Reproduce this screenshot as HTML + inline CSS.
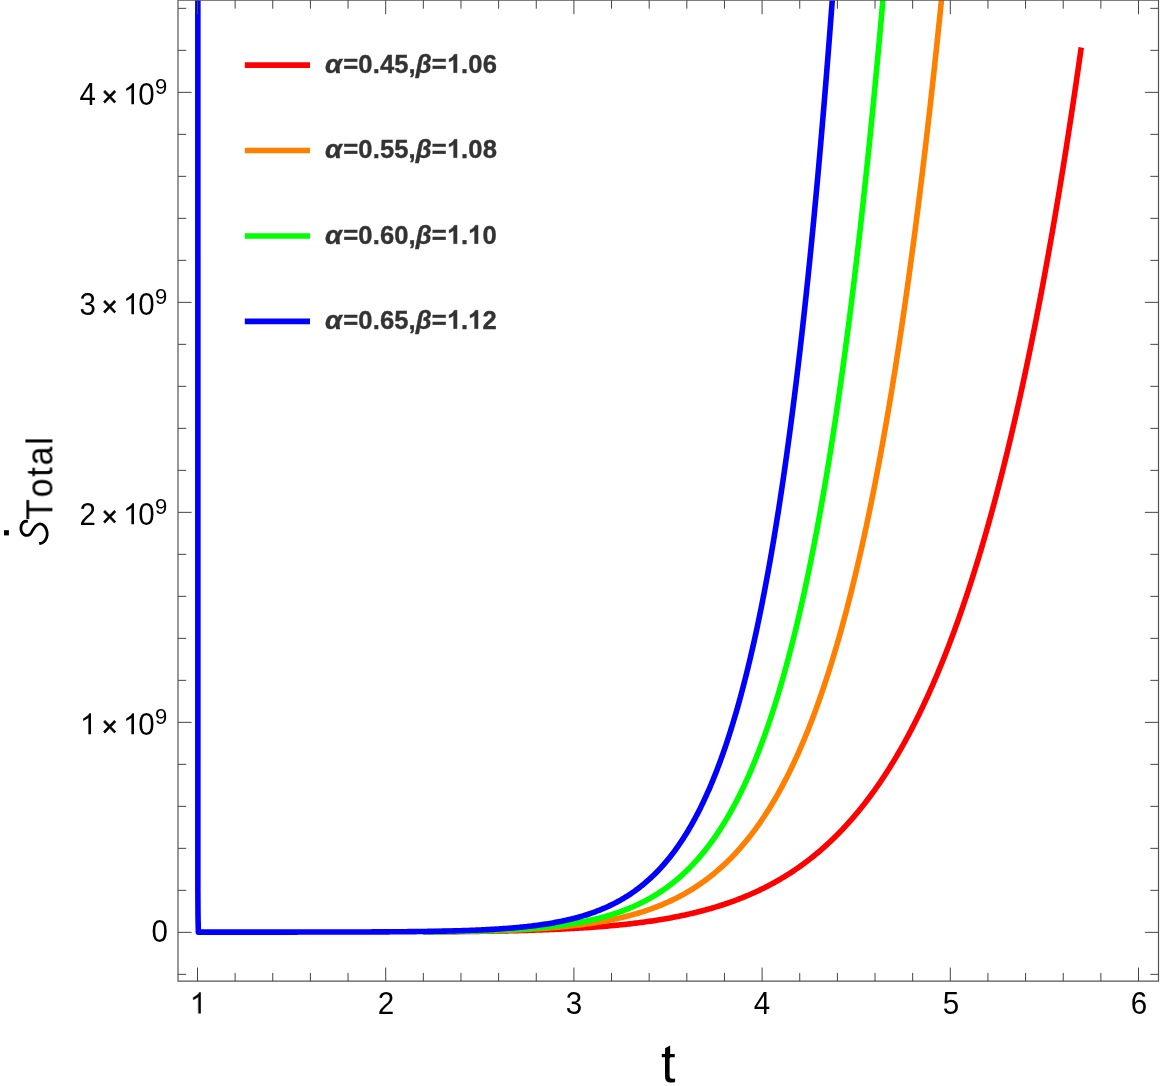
<!DOCTYPE html>
<html><head><meta charset="utf-8"><title>plot</title>
<style>
html,body{margin:0;padding:0;background:#fff;}
html{width:1163px;height:1086px;overflow:hidden;}
body{width:1163px;height:1086px;position:relative;overflow:hidden;font-family:"Liberation Sans",sans-serif;color:#000;}
.t{position:absolute;white-space:nowrap;line-height:1;transform-origin:50% 84.67%;will-change:transform;}
.o{display:inline-block;vertical-align:baseline;overflow:visible;position:relative;top:-0.5px}
.xt{font-size:29.6px;transform:translateX(-50%) scaleY(1.04);}
.yt{font-size:29.5px;transform-origin:0 84.67%;transform:scaleY(1.04);}
.lg{font-size:25.6px;font-weight:bold;color:#333;letter-spacing:0.11px;transform:scaleY(1.04);-webkit-text-stroke:0.35px #333;}
.lg i{font-style:italic;}
.lg i.a{margin-right:2.3px;display:inline-block;transform:scaleX(1.08);transform-origin:0 50%}
</style></head><body>
<svg width="1163" height="1086" viewBox="0 0 1163 1086" style="position:absolute;left:0;top:0">
<defs><clipPath id="c"><rect x="178.0" y="0.15" width="980.5" height="981.0"/></clipPath></defs>
<g clip-path="url(#c)" fill="none" stroke-linejoin="round" stroke-linecap="butt">
<path d="M423.42,931.84 L424.92,931.83 L426.43,931.82 L427.93,931.81 L429.44,931.80 L430.94,931.80 L432.45,931.79 L433.95,931.78 L435.46,931.77 L436.96,931.76 L438.47,931.75 L439.97,931.73 L441.48,931.72 L442.98,931.71 L444.49,931.70 L445.99,931.69 L447.50,931.68 L449.00,931.66 L450.51,931.65 L452.01,931.64 L453.52,931.62 L455.02,931.61 L456.53,931.60 L458.03,931.58 L459.54,931.57 L461.04,931.55 L462.54,931.53 L464.05,931.52 L465.55,931.50 L467.06,931.48 L468.56,931.47 L470.07,931.45 L471.57,931.43 L473.08,931.41 L474.58,931.39 L476.09,931.37 L477.59,931.35 L479.10,931.33 L480.60,931.31 L482.11,931.29 L483.61,931.27 L485.12,931.24 L486.62,931.22 L488.13,931.20 L489.63,931.17 L491.14,931.15 L492.64,931.12 L494.15,931.09 L495.65,931.07 L497.16,931.04 L498.66,931.01 L500.16,930.98 L501.67,930.95 L503.17,930.92 L504.68,930.89 L506.18,930.86 L507.69,930.83 L509.19,930.79 L510.70,930.76 L512.20,930.73 L513.71,930.69 L515.21,930.65 L516.72,930.62 L518.22,930.58 L519.73,930.54 L521.23,930.50 L522.74,930.46 L524.24,930.42 L525.75,930.38 L527.25,930.33 L528.76,930.29 L530.26,930.24 L531.77,930.20 L533.27,930.15 L534.78,930.10 L536.28,930.05 L537.78,930.00 L539.29,929.95 L540.79,929.90 L542.30,929.84 L543.80,929.79 L545.31,929.73 L546.81,929.67 L548.32,929.61 L549.82,929.55 L551.33,929.49 L552.83,929.43 L554.34,929.37 L555.84,929.30 L557.35,929.23 L558.85,929.17 L560.36,929.10 L561.86,929.03 L563.37,928.95 L564.87,928.88 L566.38,928.81 L567.88,928.73 L569.39,928.65 L570.89,928.57 L572.40,928.49 L573.90,928.41 L575.40,928.32 L576.91,928.23 L578.41,928.14 L579.92,928.05 L581.42,927.96 L582.93,927.87 L584.43,927.77 L585.94,927.67 L587.44,927.58 L588.95,927.47 L590.45,927.37 L591.96,927.26 L593.46,927.16 L594.97,927.05 L596.47,926.93 L597.98,926.82 L599.48,926.70 L600.99,926.59 L602.49,926.46 L604.00,926.34 L605.50,926.22 L607.01,926.09 L608.51,925.96 L610.02,925.82 L611.52,925.69 L613.02,925.55 L614.53,925.41 L616.03,925.27 L617.54,925.12 L619.04,924.97 L620.55,924.82 L622.05,924.66 L623.56,924.51 L625.06,924.35 L626.57,924.18 L628.07,924.02 L629.58,923.85 L631.08,923.67 L632.59,923.50 L634.09,923.32 L635.60,923.14 L637.10,922.95 L638.61,922.76 L640.11,922.57 L641.62,922.37 L643.12,922.17 L644.63,921.97 L646.13,921.76 L647.64,921.55 L649.14,921.34 L650.64,921.12 L652.15,920.90 L653.65,920.67 L655.16,920.44 L656.66,920.21 L658.17,919.97 L659.67,919.73 L661.18,919.48 L662.68,919.23 L664.19,918.97 L665.69,918.71 L667.20,918.45 L668.70,918.18 L670.21,917.91 L671.71,917.63 L673.22,917.34 L674.72,917.05 L676.23,916.76 L677.73,916.46 L679.24,916.16 L680.74,915.85 L682.25,915.54 L683.75,915.22 L685.26,914.89 L686.76,914.56 L688.26,914.23 L689.77,913.89 L691.27,913.54 L692.78,913.19 L694.28,912.83 L695.79,912.46 L697.29,912.09 L698.80,911.72 L700.30,911.33 L701.81,910.94 L703.31,910.55 L704.82,910.14 L706.32,909.73 L707.83,909.32 L709.33,908.90 L710.84,908.47 L712.34,908.03 L713.85,907.59 L715.35,907.13 L716.86,906.68 L718.36,906.21 L719.87,905.74 L721.37,905.26 L722.88,904.77 L724.00,904.40 L725.13,904.02 L726.26,903.64 L727.39,903.25 L728.52,902.86 L729.65,902.47 L730.78,902.07 L731.90,901.67 L733.03,901.26 L734.16,900.85 L735.29,900.43 L736.42,900.00 L737.55,899.58 L738.68,899.14 L739.80,898.70 L740.93,898.26 L742.06,897.81 L743.19,897.36 L744.32,896.90 L745.45,896.43 L746.58,895.96 L747.70,895.49 L748.83,895.01 L749.96,894.52 L751.09,894.03 L752.22,893.53 L753.35,893.03 L754.48,892.52 L755.60,892.00 L756.73,891.48 L757.86,890.96 L758.99,890.42 L760.12,889.88 L761.25,889.34 L762.38,888.79 L763.50,888.23 L764.63,887.66 L765.76,887.09 L766.89,886.52 L768.02,885.93 L769.15,885.34 L770.28,884.75 L771.41,884.14 L772.53,883.53 L773.66,882.92 L774.79,882.29 L775.92,881.66 L777.05,881.02 L778.18,880.38 L779.31,879.73 L780.43,879.07 L781.56,878.40 L782.69,877.72 L783.82,877.04 L784.95,876.35 L786.08,875.66 L787.21,874.95 L788.33,874.24 L789.46,873.52 L790.59,872.79 L791.72,872.06 L792.85,871.31 L793.98,870.56 L795.11,869.80 L796.23,869.03 L797.36,868.25 L798.49,867.47 L799.62,866.67 L800.75,865.87 L801.88,865.06 L803.01,864.24 L804.13,863.41 L805.26,862.57 L806.39,861.73 L807.52,860.87 L808.65,860.00 L809.78,859.13 L810.91,858.25 L812.03,857.35 L813.16,856.45 L814.29,855.54 L815.42,854.62 L816.55,853.68 L817.68,852.74 L818.81,851.79 L819.93,850.83 L821.06,849.86 L822.19,848.87 L823.32,847.88 L824.45,846.88 L825.58,845.87 L826.71,844.84 L827.83,843.81 L828.96,842.76 L830.09,841.70 L831.22,840.64 L832.35,839.56 L833.48,838.47 L834.61,837.37 L835.74,836.25 L836.49,835.51 L837.24,834.75 L837.99,833.99 L838.74,833.23 L839.50,832.46 L840.25,831.69 L841.00,830.91 L841.75,830.12 L842.51,829.33 L843.26,828.54 L844.01,827.74 L844.76,826.93 L845.52,826.12 L846.27,825.30 L847.02,824.48 L847.77,823.65 L848.53,822.81 L849.28,821.97 L850.03,821.13 L850.78,820.28 L851.54,819.42 L852.29,818.56 L853.04,817.69 L853.79,816.81 L854.55,815.93 L855.30,815.05 L856.05,814.15 L856.80,813.25 L857.55,812.35 L858.31,811.44 L859.06,810.52 L859.81,809.60 L860.56,808.67 L861.32,807.74 L862.07,806.79 L862.82,805.85 L863.57,804.89 L864.33,803.93 L865.08,802.96 L865.83,801.99 L866.58,801.01 L867.34,800.02 L868.09,799.03 L868.84,798.03 L869.59,797.03 L870.35,796.01 L871.10,794.99 L871.85,793.97 L872.60,792.94 L873.36,791.90 L874.11,790.85 L874.86,789.80 L875.61,788.73 L876.36,787.67 L877.12,786.59 L877.87,785.51 L878.62,784.42 L879.37,783.33 L880.13,782.22 L880.88,781.11 L881.63,780.00 L882.38,778.87 L883.14,777.74 L883.89,776.60 L884.64,775.45 L885.39,774.30 L886.15,773.14 L886.90,771.97 L887.65,770.79 L888.40,769.61 L889.16,768.42 L889.91,767.22 L890.66,766.01 L891.41,764.79 L892.17,763.57 L892.92,762.34 L893.67,761.10 L894.42,759.85 L895.17,758.60 L895.93,757.33 L896.68,756.06 L897.43,754.78 L898.18,753.50 L898.94,752.20 L899.69,750.90 L900.44,749.58 L901.19,748.26 L901.95,746.93 L902.70,745.60 L903.45,744.25 L904.20,742.89 L904.96,741.53 L905.71,740.16 L906.46,738.78 L907.21,737.39 L907.97,735.99 L908.72,734.58 L909.47,733.17 L910.22,731.74 L910.98,730.31 L911.73,728.86 L912.48,727.41 L913.23,725.95 L913.98,724.48 L914.74,723.00 L915.49,721.51 L916.24,720.01 L916.99,718.50 L917.75,716.99 L918.50,715.46 L919.25,713.92 L920.00,712.38 L920.76,710.82 L921.51,709.25 L922.26,707.68 L923.01,706.09 L923.77,704.50 L924.52,702.89 L925.27,701.28 L926.02,699.65 L926.78,698.02 L927.53,696.37 L928.28,694.72 L929.03,693.05 L929.79,691.38 L930.54,689.69 L931.29,687.99 L932.04,686.28 L932.79,684.57 L933.55,682.84 L934.30,681.10 L935.05,679.35 L935.80,677.59 L936.56,675.82 L937.31,674.04 L938.06,672.24 L938.81,670.44 L939.57,668.62 L940.32,666.80 L941.07,664.96 L941.82,663.11 L942.58,661.25 L943.33,659.38 L944.08,657.50 L944.83,655.60 L945.59,653.70 L946.34,651.78 L947.09,649.85 L947.84,647.91 L948.60,645.96 L949.35,643.99 L950.10,642.02 L950.85,640.03 L951.60,638.03 L952.36,636.02 L953.11,633.99 L953.86,631.95 L954.61,629.91 L955.37,627.84 L956.12,625.77 L956.87,623.68 L957.62,621.59 L958.38,619.47 L959.13,617.35 L959.88,615.21 L960.63,613.06 L961.39,610.90 L962.14,608.73 L962.89,606.54 L963.64,604.34 L964.40,602.12 L965.15,599.89 L965.90,597.65 L966.28,596.53 L966.65,595.40 L967.03,594.27 L967.41,593.13 L967.78,591.99 L968.16,590.85 L968.53,589.71 L968.91,588.56 L969.29,587.40 L969.66,586.25 L970.04,585.09 L970.41,583.93 L970.79,582.76 L971.17,581.59 L971.54,580.42 L971.92,579.24 L972.30,578.06 L972.67,576.88 L973.05,575.69 L973.42,574.50 L973.80,573.31 L974.18,572.11 L974.55,570.91 L974.93,569.70 L975.31,568.49 L975.68,567.28 L976.06,566.07 L976.43,564.85 L976.81,563.63 L977.19,562.40 L977.56,561.17 L977.94,559.94 L978.32,558.70 L978.69,557.46 L979.07,556.22 L979.44,554.97 L979.82,553.72 L980.20,552.46 L980.57,551.20 L980.95,549.94 L981.32,548.68 L981.70,547.41 L982.08,546.13 L982.45,544.86 L982.83,543.57 L983.21,542.29 L983.58,541.00 L983.96,539.71 L984.33,538.41 L984.71,537.11 L985.09,535.81 L985.46,534.50 L985.84,533.19 L986.22,531.88 L986.59,530.56 L986.97,529.24 L987.34,527.91 L987.72,526.58 L988.10,525.24 L988.47,523.91 L988.85,522.56 L989.22,521.22 L989.60,519.87 L989.98,518.52 L990.35,517.16 L990.73,515.80 L991.11,514.43 L991.48,513.06 L991.86,511.69 L992.23,510.31 L992.61,508.93 L992.99,507.54 L993.36,506.16 L993.74,504.76 L994.12,503.36 L994.49,501.96 L994.87,500.56 L995.24,499.15 L995.62,497.73 L996.00,496.32 L996.37,494.90 L996.75,493.47 L997.12,492.04 L997.50,490.61 L997.88,489.17 L998.25,487.73 L998.63,486.28 L999.01,484.83 L999.38,483.37 L999.76,481.92 L1000.13,480.45 L1000.51,478.99 L1000.89,477.51 L1001.26,476.04 L1001.64,474.56 L1002.02,473.07 L1002.39,471.59 L1002.77,470.09 L1003.14,468.60 L1003.52,467.09 L1003.90,465.59 L1004.27,464.08 L1004.65,462.57 L1005.03,461.05 L1005.40,459.52 L1005.78,458.00 L1006.15,456.47 L1006.53,454.93 L1006.91,453.39 L1007.28,451.84 L1007.66,450.30 L1008.03,448.74 L1008.41,447.18 L1008.79,445.62 L1009.16,444.06 L1009.54,442.48 L1009.92,440.91 L1010.29,439.33 L1010.67,437.74 L1011.04,436.16 L1011.42,434.56 L1011.80,432.96 L1012.17,431.36 L1012.55,429.75 L1012.93,428.14 L1013.30,426.53 L1013.68,424.91 L1014.05,423.28 L1014.43,421.65 L1014.81,420.01 L1015.18,418.38 L1015.56,416.73 L1015.94,415.08 L1016.31,413.43 L1016.69,411.77 L1017.06,410.11 L1017.44,408.44 L1017.82,406.77 L1018.19,405.09 L1018.57,403.41 L1018.94,401.73 L1019.32,400.04 L1019.70,398.34 L1020.07,396.64 L1020.45,394.93 L1020.83,393.22 L1021.20,391.51 L1021.58,389.79 L1021.95,388.07 L1022.33,386.34 L1022.71,384.60 L1023.08,382.86 L1023.46,381.12 L1023.84,379.37 L1024.21,377.62 L1024.59,375.86 L1024.96,374.10 L1025.34,372.33 L1025.72,370.55 L1026.09,368.78 L1026.47,366.99 L1026.84,365.20 L1027.22,363.41 L1027.60,361.61 L1027.97,359.81 L1028.35,358.00 L1028.73,356.19 L1029.10,354.37 L1029.48,352.55 L1029.85,350.72 L1030.23,348.88 L1030.61,347.04 L1030.98,345.20 L1031.36,343.35 L1031.74,341.50 L1032.11,339.64 L1032.49,337.77 L1032.86,335.90 L1033.24,334.03 L1033.62,332.15 L1033.99,330.26 L1034.37,328.37 L1034.74,326.48 L1035.12,324.58 L1035.50,322.67 L1035.87,320.76 L1036.25,318.84 L1036.63,316.92 L1037.00,314.99 L1037.38,313.06 L1037.75,311.12 L1038.13,309.18 L1038.51,307.23 L1038.88,305.28 L1039.26,303.32 L1039.64,301.35 L1040.01,299.38 L1040.39,297.41 L1040.76,295.42 L1041.14,293.44 L1041.52,291.45 L1041.89,289.45 L1042.27,287.44 L1042.65,285.44 L1043.02,283.42 L1043.40,281.40 L1043.77,279.38 L1044.15,277.35 L1044.53,275.31 L1044.90,273.27 L1045.28,271.22 L1045.65,269.17 L1046.03,267.11 L1046.41,265.04 L1046.78,262.97 L1047.16,260.90 L1047.54,258.82 L1047.91,256.73 L1048.29,254.64 L1048.66,252.54 L1049.04,250.43 L1049.42,248.32 L1049.79,246.21 L1050.17,244.08 L1050.55,241.96 L1050.92,239.82 L1051.30,237.68 L1051.67,235.54 L1052.05,233.39 L1052.43,231.23 L1052.80,229.07 L1053.18,226.90 L1053.55,224.73 L1053.93,222.55 L1054.31,220.36 L1054.68,218.17 L1055.06,215.97 L1055.44,213.77 L1055.81,211.56 L1056.19,209.34 L1056.56,207.12 L1056.94,204.89 L1057.32,202.66 L1057.69,200.41 L1058.07,198.17 L1058.45,195.92 L1058.82,193.66 L1059.20,191.39 L1059.57,189.12 L1059.95,186.85 L1060.33,184.56 L1060.70,182.27 L1061.08,179.98 L1061.46,177.68 L1061.83,175.37 L1062.21,173.05 L1062.58,170.73 L1062.96,168.41 L1063.34,166.08 L1063.71,163.74 L1064.09,161.39 L1064.46,159.04 L1064.84,156.68 L1065.22,154.32 L1065.59,151.95 L1065.97,149.57 L1066.35,147.19 L1066.72,144.80 L1067.10,142.40 L1067.47,140.00 L1067.85,137.59 L1068.23,135.17 L1068.60,132.75 L1068.98,130.32 L1069.36,127.88 L1069.73,125.44 L1070.11,122.99 L1070.48,120.54 L1070.86,118.08 L1071.24,115.61 L1071.61,113.14 L1071.99,110.65 L1072.37,108.17 L1072.74,105.67 L1073.12,103.17 L1073.49,100.66 L1073.87,98.15 L1074.25,95.63 L1074.62,93.10 L1075.00,90.56 L1075.37,88.02 L1075.75,85.48 L1076.13,82.92 L1076.50,80.36 L1076.88,77.79 L1077.26,75.21 L1077.63,72.63 L1078.01,70.04 L1078.38,67.45 L1078.76,64.84 L1079.14,62.23 L1079.51,59.62 L1079.89,56.99 L1080.27,54.36 L1080.64,51.72 L1081.02,49.08 L1081.24,47.50" stroke="#ff0000" stroke-width="5.6"/>
<path d="M423.42,931.80 L424.92,931.78 L426.43,931.77 L427.93,931.76 L429.44,931.75 L430.94,931.74 L432.45,931.72 L433.95,931.71 L435.46,931.70 L436.96,931.68 L438.47,931.67 L439.97,931.65 L441.48,931.64 L442.98,931.62 L444.49,931.60 L445.99,931.59 L447.50,931.57 L449.00,931.55 L450.51,931.53 L452.01,931.51 L453.52,931.49 L455.02,931.47 L456.53,931.45 L458.03,931.43 L459.54,931.40 L461.04,931.38 L462.54,931.36 L464.05,931.33 L465.55,931.31 L467.06,931.28 L468.56,931.25 L470.07,931.23 L471.57,931.20 L473.08,931.17 L474.58,931.14 L476.09,931.11 L477.59,931.07 L479.10,931.04 L480.60,931.01 L482.11,930.97 L483.61,930.94 L485.12,930.90 L486.62,930.86 L488.13,930.82 L489.63,930.78 L491.14,930.74 L492.64,930.70 L494.15,930.65 L495.65,930.61 L497.16,930.56 L498.66,930.51 L500.16,930.47 L501.67,930.41 L503.17,930.36 L504.68,930.31 L506.18,930.26 L507.69,930.20 L509.19,930.14 L510.70,930.08 L512.20,930.02 L513.71,929.96 L515.21,929.90 L516.72,929.83 L518.22,929.76 L519.73,929.69 L521.23,929.62 L522.74,929.55 L524.24,929.47 L525.75,929.40 L527.25,929.32 L528.76,929.24 L530.26,929.15 L531.77,929.07 L533.27,928.98 L534.78,928.89 L536.28,928.80 L537.78,928.70 L539.29,928.61 L540.79,928.51 L542.30,928.41 L543.80,928.30 L545.31,928.20 L546.81,928.09 L548.32,927.97 L549.82,927.86 L551.33,927.74 L552.83,927.62 L554.34,927.49 L555.84,927.37 L557.35,927.24 L558.85,927.10 L560.36,926.96 L561.86,926.82 L563.37,926.68 L564.87,926.53 L566.38,926.38 L567.88,926.23 L569.39,926.07 L570.89,925.91 L572.40,925.74 L573.90,925.57 L575.40,925.40 L576.91,925.22 L578.41,925.03 L579.92,924.85 L581.42,924.66 L582.93,924.46 L584.43,924.26 L585.94,924.05 L587.44,923.84 L588.95,923.63 L590.45,923.41 L591.96,923.18 L593.46,922.95 L594.97,922.72 L596.47,922.47 L597.98,922.23 L599.48,921.98 L600.99,921.72 L602.49,921.45 L604.00,921.18 L605.50,920.91 L607.01,920.62 L608.51,920.33 L610.02,920.04 L611.52,919.74 L613.02,919.43 L614.53,919.11 L616.03,918.79 L617.54,918.46 L619.04,918.12 L620.55,917.77 L622.05,917.42 L623.56,917.06 L625.06,916.69 L626.57,916.32 L628.07,915.93 L629.58,915.54 L631.08,915.14 L632.59,914.73 L634.09,914.31 L635.60,913.88 L637.10,913.44 L638.61,912.99 L640.11,912.53 L641.62,912.07 L643.12,911.59 L644.63,911.10 L645.75,910.73 L646.88,910.35 L648.01,909.97 L649.14,909.58 L650.27,909.18 L651.40,908.78 L652.53,908.37 L653.65,907.96 L654.78,907.54 L655.91,907.11 L657.04,906.67 L658.17,906.23 L659.30,905.78 L660.43,905.33 L661.55,904.86 L662.68,904.39 L663.81,903.92 L664.94,903.43 L666.07,902.94 L667.20,902.44 L668.33,901.93 L669.45,901.42 L670.58,900.90 L671.71,900.37 L672.84,899.83 L673.97,899.28 L675.10,898.72 L676.23,898.16 L677.36,897.59 L678.48,897.01 L679.61,896.42 L680.74,895.82 L681.87,895.21 L683.00,894.59 L684.13,893.96 L685.26,893.33 L686.38,892.68 L687.51,892.03 L688.64,891.36 L689.77,890.69 L690.90,890.00 L692.03,889.31 L693.16,888.60 L694.28,887.89 L695.41,887.16 L696.54,886.43 L697.67,885.68 L698.80,884.92 L699.93,884.15 L701.06,883.37 L702.18,882.58 L703.31,881.77 L704.44,880.96 L705.57,880.13 L706.70,879.29 L707.83,878.44 L708.96,877.57 L710.08,876.70 L711.21,875.81 L712.34,874.91 L713.47,873.99 L714.60,873.06 L715.73,872.12 L716.86,871.17 L717.98,870.20 L719.11,869.22 L720.24,868.22 L721.37,867.21 L722.50,866.19 L723.63,865.15 L724.76,864.09 L725.88,863.02 L727.01,861.94 L728.14,860.84 L729.27,859.73 L730.02,858.97 L730.78,858.21 L731.53,857.45 L732.28,856.68 L733.03,855.90 L733.79,855.11 L734.54,854.31 L735.29,853.51 L736.04,852.70 L736.79,851.88 L737.55,851.06 L738.30,850.23 L739.05,849.39 L739.80,848.54 L740.56,847.68 L741.31,846.82 L742.06,845.95 L742.81,845.07 L743.57,844.18 L744.32,843.29 L745.07,842.38 L745.82,841.47 L746.58,840.55 L747.33,839.62 L748.08,838.69 L748.83,837.74 L749.59,836.79 L750.34,835.82 L751.09,834.85 L751.84,833.87 L752.60,832.88 L753.35,831.88 L754.10,830.88 L754.85,829.86 L755.60,828.84 L756.36,827.80 L757.11,826.76 L757.86,825.70 L758.61,824.64 L759.37,823.57 L760.12,822.49 L760.87,821.39 L761.62,820.29 L762.38,819.18 L763.13,818.06 L763.88,816.93 L764.63,815.79 L765.39,814.64 L766.14,813.47 L766.89,812.30 L767.64,811.12 L768.40,809.93 L769.15,808.72 L769.90,807.51 L770.65,806.29 L771.41,805.05 L772.16,803.80 L772.91,802.55 L773.66,801.28 L774.41,800.00 L775.17,798.71 L775.92,797.40 L776.67,796.09 L777.42,794.77 L778.18,793.43 L778.93,792.08 L779.68,790.72 L780.43,789.35 L781.19,787.96 L781.94,786.57 L782.69,785.16 L783.44,783.74 L784.20,782.31 L784.95,780.86 L785.70,779.40 L786.45,777.93 L787.21,776.45 L787.96,774.95 L788.71,773.44 L789.46,771.92 L790.22,770.39 L790.97,768.84 L791.72,767.28 L792.47,765.70 L793.22,764.11 L793.98,762.51 L794.73,760.90 L795.48,759.27 L796.23,757.62 L796.99,755.97 L797.74,754.29 L798.49,752.61 L799.24,750.91 L800.00,749.19 L800.75,747.46 L801.50,745.72 L802.25,743.96 L803.01,742.19 L803.76,740.40 L804.51,738.60 L805.26,736.78 L806.02,734.94 L806.77,733.09 L807.52,731.23 L808.27,729.35 L809.02,727.45 L809.78,725.54 L810.53,723.61 L811.28,721.66 L812.03,719.70 L812.79,717.72 L813.54,715.73 L814.29,713.72 L815.04,711.69 L815.80,709.64 L816.55,707.58 L817.30,705.50 L818.05,703.41 L818.81,701.29 L819.56,699.16 L820.31,697.01 L821.06,694.84 L821.82,692.66 L822.57,690.46 L823.32,688.24 L824.07,686.00 L824.45,684.87 L824.83,683.74 L825.20,682.60 L825.58,681.46 L825.95,680.32 L826.33,679.17 L826.71,678.01 L827.08,676.85 L827.46,675.69 L827.83,674.52 L828.21,673.35 L828.59,672.17 L828.96,670.99 L829.34,669.80 L829.72,668.60 L830.09,667.41 L830.47,666.20 L830.84,665.00 L831.22,663.78 L831.60,662.57 L831.97,661.34 L832.35,660.12 L832.73,658.88 L833.10,657.65 L833.48,656.40 L833.85,655.16 L834.23,653.90 L834.61,652.65 L834.98,651.38 L835.36,650.11 L835.74,648.84 L836.11,647.56 L836.49,646.28 L836.86,644.99 L837.24,643.70 L837.62,642.40 L837.99,641.09 L838.37,639.78 L838.74,638.47 L839.12,637.15 L839.50,635.82 L839.87,634.49 L840.25,633.16 L840.63,631.81 L841.00,630.47 L841.38,629.11 L841.75,627.76 L842.13,626.39 L842.51,625.02 L842.88,623.65 L843.26,622.27 L843.64,620.88 L844.01,619.49 L844.39,618.10 L844.76,616.69 L845.14,615.29 L845.52,613.87 L845.89,612.45 L846.27,611.03 L846.64,609.60 L847.02,608.16 L847.40,606.72 L847.77,605.27 L848.15,603.82 L848.53,602.36 L848.90,600.89 L849.28,599.42 L849.65,597.94 L850.03,596.46 L850.41,594.97 L850.78,593.48 L851.16,591.98 L851.54,590.47 L851.91,588.96 L852.29,587.44 L852.66,585.91 L853.04,584.38 L853.42,582.84 L853.79,581.30 L854.17,579.75 L854.55,578.20 L854.92,576.64 L855.30,575.07 L855.67,573.49 L856.05,571.91 L856.43,570.33 L856.80,568.74 L857.18,567.14 L857.55,565.53 L857.93,563.92 L858.31,562.30 L858.68,560.68 L859.06,559.05 L859.44,557.41 L859.81,555.77 L860.19,554.11 L860.56,552.46 L860.94,550.80 L861.32,549.13 L861.69,547.45 L862.07,545.77 L862.45,544.08 L862.82,542.38 L863.20,540.68 L863.57,538.97 L863.95,537.25 L864.33,535.53 L864.70,533.80 L865.08,532.06 L865.46,530.32 L865.83,528.57 L866.21,526.81 L866.58,525.05 L866.96,523.28 L867.34,521.50 L867.71,519.72 L868.09,517.92 L868.46,516.13 L868.84,514.32 L869.22,512.51 L869.59,510.69 L869.97,508.86 L870.35,507.03 L870.72,505.19 L871.10,503.34 L871.47,501.48 L871.85,499.62 L872.23,497.75 L872.60,495.87 L872.98,493.99 L873.36,492.10 L873.73,490.20 L874.11,488.29 L874.48,486.38 L874.86,484.46 L875.24,482.53 L875.61,480.59 L875.99,478.65 L876.36,476.70 L876.74,474.74 L877.12,472.77 L877.49,470.80 L877.87,468.82 L878.25,466.83 L878.62,464.83 L879.00,462.83 L879.37,460.81 L879.75,458.79 L880.13,456.77 L880.50,454.73 L880.88,452.69 L881.26,450.64 L881.63,448.58 L882.01,446.51 L882.38,444.44 L882.76,442.35 L883.14,440.26 L883.51,438.16 L883.89,436.06 L884.27,433.94 L884.64,431.82 L885.02,429.69 L885.39,427.55 L885.77,425.40 L886.15,423.24 L886.52,421.08 L886.90,418.91 L887.27,416.73 L887.65,414.54 L888.03,412.34 L888.40,410.13 L888.78,407.92 L889.16,405.70 L889.53,403.47 L889.91,401.23 L890.28,398.98 L890.66,396.72 L891.04,394.46 L891.41,392.18 L891.79,389.90 L892.17,387.61 L892.54,385.31 L892.92,383.00 L893.29,380.68 L893.67,378.36 L894.05,376.02 L894.42,373.68 L894.80,371.33 L895.17,368.97 L895.55,366.60 L895.93,364.22 L896.30,361.83 L896.68,359.43 L897.06,357.02 L897.43,354.61 L897.81,352.18 L898.18,349.75 L898.56,347.31 L898.94,344.85 L899.31,342.39 L899.69,339.92 L900.07,337.44 L900.44,334.95 L900.82,332.45 L901.19,329.95 L901.57,327.43 L901.95,324.90 L902.32,322.36 L902.70,319.82 L903.08,317.26 L903.45,314.70 L903.83,312.12 L904.20,309.54 L904.58,306.94 L904.96,304.34 L905.33,301.73 L905.71,299.10 L906.08,296.47 L906.46,293.83 L906.84,291.17 L907.21,288.51 L907.59,285.84 L907.97,283.16 L908.34,280.46 L908.72,277.76 L909.09,275.05 L909.47,272.33 L909.85,269.59 L910.22,266.85 L910.60,264.10 L910.98,261.33 L911.35,258.56 L911.73,255.77 L912.10,252.98 L912.48,250.17 L912.86,247.36 L913.23,244.53 L913.61,241.70 L913.98,238.85 L914.36,235.99 L914.74,233.12 L915.11,230.25 L915.49,227.36 L915.87,224.46 L916.24,221.55 L916.62,218.63 L916.99,215.69 L917.37,212.75 L917.75,209.80 L918.12,206.83 L918.50,203.86 L918.88,200.87 L919.25,197.87 L919.63,194.86 L920.00,191.84 L920.38,188.81 L920.76,185.77 L921.13,182.72 L921.51,179.65 L921.88,176.58 L922.26,173.49 L922.64,170.39 L923.01,167.28 L923.39,164.16 L923.77,161.03 L924.14,157.88 L924.52,154.73 L924.89,151.56 L925.27,148.38 L925.65,145.19 L926.02,141.99 L926.40,138.78 L926.78,135.55 L927.15,132.31 L927.53,129.06 L927.90,125.80 L928.28,122.53 L928.66,119.25 L929.03,115.95 L929.41,112.64 L929.79,109.32 L930.16,105.99 L930.54,102.64 L930.91,99.28 L931.29,95.92 L931.67,92.53 L932.04,89.14 L932.42,85.73 L932.79,82.31 L933.17,78.88 L933.55,75.44 L933.92,71.98 L934.30,68.52 L934.68,65.03 L935.05,61.54 L935.43,58.03 L935.80,54.52 L936.18,50.98 L936.56,47.44 L936.93,43.88 L937.31,40.31 L937.69,36.73 L938.06,33.13 L938.44,29.52 L938.81,25.90 L939.19,22.27 L939.57,18.62 L939.94,14.96 L940.32,11.28 L940.69,7.59 L941.07,3.89 L941.45,0.18 L941.82,-3.55 L942.20,-7.29 L942.58,-11.04 L942.95,-14.81 L943.33,-18.59 L943.70,-22.39 L944.08,-26.20 L944.46,-30.02" stroke="#ff8000" stroke-width="5.6"/>
<path d="M423.42,931.78 L424.92,931.77 L426.43,931.76 L427.93,931.74 L429.44,931.73 L430.94,931.71 L432.45,931.70 L433.95,931.68 L435.46,931.67 L436.96,931.65 L438.47,931.63 L439.97,931.62 L441.48,931.60 L442.98,931.58 L444.49,931.56 L445.99,931.54 L447.50,931.52 L449.00,931.50 L450.51,931.47 L452.01,931.45 L453.52,931.43 L455.02,931.40 L456.53,931.38 L458.03,931.35 L459.54,931.32 L461.04,931.29 L462.54,931.27 L464.05,931.23 L465.55,931.20 L467.06,931.17 L468.56,931.14 L470.07,931.10 L471.57,931.07 L473.08,931.03 L474.58,930.99 L476.09,930.96 L477.59,930.92 L479.10,930.87 L480.60,930.83 L482.11,930.79 L483.61,930.74 L485.12,930.70 L486.62,930.65 L488.13,930.60 L489.63,930.55 L491.14,930.49 L492.64,930.44 L494.15,930.38 L495.65,930.33 L497.16,930.27 L498.66,930.20 L500.16,930.14 L501.67,930.08 L503.17,930.01 L504.68,929.94 L506.18,929.87 L507.69,929.79 L509.19,929.72 L510.70,929.64 L512.20,929.56 L513.71,929.48 L515.21,929.39 L516.72,929.31 L518.22,929.22 L519.73,929.12 L521.23,929.03 L522.74,928.93 L524.24,928.83 L525.75,928.73 L527.25,928.62 L528.76,928.51 L530.26,928.40 L531.77,928.28 L533.27,928.16 L534.78,928.04 L536.28,927.91 L537.78,927.78 L539.29,927.65 L540.79,927.51 L542.30,927.37 L543.80,927.23 L545.31,927.08 L546.81,926.93 L548.32,926.77 L549.82,926.61 L551.33,926.44 L552.83,926.27 L554.34,926.10 L555.84,925.92 L557.35,925.73 L558.85,925.54 L560.36,925.35 L561.86,925.15 L563.37,924.94 L564.87,924.73 L566.38,924.52 L567.88,924.30 L569.39,924.07 L570.89,923.83 L572.40,923.59 L573.90,923.35 L575.40,923.10 L576.91,922.84 L578.41,922.57 L579.92,922.30 L581.42,922.02 L582.93,921.73 L584.43,921.44 L585.94,921.13 L587.44,920.82 L588.95,920.50 L590.45,920.18 L591.96,919.84 L593.46,919.50 L594.97,919.15 L596.47,918.79 L597.98,918.42 L599.48,918.04 L600.99,917.65 L602.49,917.26 L604.00,916.85 L605.50,916.43 L607.01,916.00 L608.51,915.56 L610.02,915.11 L611.52,914.65 L613.02,914.18 L614.53,913.70 L616.03,913.20 L617.16,912.82 L618.29,912.44 L619.42,912.04 L620.55,911.64 L621.68,911.24 L622.81,910.82 L623.93,910.40 L625.06,909.97 L626.19,909.53 L627.32,909.09 L628.45,908.63 L629.58,908.17 L630.71,907.70 L631.83,907.22 L632.96,906.74 L634.09,906.24 L635.22,905.74 L636.35,905.22 L637.48,904.70 L638.61,904.17 L639.74,903.63 L640.86,903.08 L641.99,902.52 L643.12,901.95 L644.25,901.37 L645.38,900.78 L646.51,900.19 L647.64,899.58 L648.76,898.96 L649.89,898.32 L651.02,897.68 L652.15,897.03 L653.28,896.37 L654.41,895.69 L655.54,895.00 L656.66,894.30 L657.79,893.59 L658.92,892.87 L660.05,892.14 L661.18,891.39 L662.31,890.63 L663.44,889.85 L664.56,889.07 L665.69,888.27 L666.82,887.46 L667.95,886.63 L669.08,885.79 L670.21,884.94 L671.34,884.07 L672.46,883.18 L673.59,882.29 L674.72,881.37 L675.85,880.45 L676.98,879.50 L678.11,878.55 L679.24,877.57 L680.36,876.58 L681.49,875.57 L682.62,874.55 L683.75,873.51 L684.88,872.45 L686.01,871.38 L687.14,870.29 L688.26,869.18 L689.02,868.43 L689.77,867.67 L690.52,866.90 L691.27,866.13 L692.03,865.35 L692.78,864.56 L693.53,863.76 L694.28,862.95 L695.04,862.13 L695.79,861.31 L696.54,860.47 L697.29,859.63 L698.05,858.78 L698.80,857.92 L699.55,857.05 L700.30,856.17 L701.06,855.28 L701.81,854.38 L702.56,853.47 L703.31,852.56 L704.07,851.63 L704.82,850.69 L705.57,849.74 L706.32,848.79 L707.07,847.82 L707.83,846.84 L708.58,845.86 L709.33,844.86 L710.08,843.85 L710.84,842.83 L711.59,841.80 L712.34,840.76 L713.09,839.71 L713.85,838.65 L714.60,837.58 L715.35,836.49 L716.10,835.40 L716.86,834.29 L717.61,833.18 L718.36,832.05 L719.11,830.90 L719.87,829.75 L720.62,828.59 L721.37,827.41 L722.12,826.22 L722.88,825.02 L723.63,823.81 L724.38,822.58 L725.13,821.34 L725.88,820.09 L726.64,818.83 L727.39,817.55 L728.14,816.26 L728.89,814.96 L729.65,813.64 L730.40,812.31 L731.15,810.97 L731.90,809.61 L732.66,808.24 L733.41,806.85 L734.16,805.45 L734.91,804.04 L735.67,802.61 L736.42,801.17 L737.17,799.72 L737.92,798.25 L738.68,796.76 L739.43,795.26 L740.18,793.74 L740.93,792.21 L741.69,790.67 L742.44,789.11 L743.19,787.53 L743.94,785.94 L744.69,784.33 L745.45,782.70 L746.20,781.06 L746.95,779.40 L747.70,777.73 L748.46,776.04 L749.21,774.33 L749.96,772.61 L750.71,770.87 L751.47,769.11 L752.22,767.33 L752.97,765.54 L753.72,763.73 L754.48,761.90 L755.23,760.05 L755.98,758.19 L756.73,756.31 L757.49,754.40 L758.24,752.48 L758.99,750.54 L759.74,748.59 L760.50,746.61 L761.25,744.61 L762.00,742.60 L762.75,740.56 L763.50,738.51 L764.26,736.43 L765.01,734.34 L765.76,732.22 L766.51,730.08 L767.27,727.93 L768.02,725.75 L768.77,723.55 L769.52,721.33 L770.28,719.09 L770.65,717.96 L771.03,716.83 L771.41,715.69 L771.78,714.54 L772.16,713.39 L772.53,712.23 L772.91,711.07 L773.29,709.90 L773.66,708.73 L774.04,707.55 L774.41,706.37 L774.79,705.18 L775.17,703.98 L775.54,702.78 L775.92,701.58 L776.30,700.36 L776.67,699.15 L777.05,697.92 L777.42,696.69 L777.80,695.46 L778.18,694.21 L778.55,692.97 L778.93,691.71 L779.31,690.45 L779.68,689.19 L780.06,687.92 L780.43,686.64 L780.81,685.36 L781.19,684.07 L781.56,682.77 L781.94,681.47 L782.31,680.16 L782.69,678.85 L783.07,677.53 L783.44,676.20 L783.82,674.87 L784.20,673.53 L784.57,672.18 L784.95,670.83 L785.32,669.47 L785.70,668.11 L786.08,666.73 L786.45,665.36 L786.83,663.97 L787.21,662.58 L787.58,661.19 L787.96,659.78 L788.33,658.37 L788.71,656.95 L789.09,655.53 L789.46,654.10 L789.84,652.66 L790.22,651.22 L790.59,649.77 L790.97,648.31 L791.34,646.85 L791.72,645.38 L792.10,643.90 L792.47,642.42 L792.85,640.92 L793.22,639.43 L793.60,637.92 L793.98,636.41 L794.35,634.89 L794.73,633.36 L795.11,631.83 L795.48,630.29 L795.86,628.74 L796.23,627.19 L796.61,625.62 L796.99,624.05 L797.36,622.48 L797.74,620.89 L798.12,619.30 L798.49,617.70 L798.87,616.10 L799.24,614.48 L799.62,612.86 L800.00,611.23 L800.37,609.60 L800.75,607.95 L801.12,606.30 L801.50,604.64 L801.88,602.97 L802.25,601.30 L802.63,599.62 L803.01,597.93 L803.38,596.23 L803.76,594.52 L804.13,592.81 L804.51,591.09 L804.89,589.36 L805.26,587.62 L805.64,585.88 L806.02,584.13 L806.39,582.36 L806.77,580.60 L807.14,578.82 L807.52,577.03 L807.90,575.24 L808.27,573.44 L808.65,571.63 L809.02,569.81 L809.40,567.98 L809.78,566.15 L810.15,564.30 L810.53,562.45 L810.91,560.59 L811.28,558.72 L811.66,556.85 L812.03,554.96 L812.41,553.07 L812.79,551.16 L813.16,549.25 L813.54,547.33 L813.92,545.40 L814.29,543.47 L814.67,541.52 L815.04,539.56 L815.42,537.60 L815.80,535.63 L816.17,533.64 L816.55,531.65 L816.93,529.65 L817.30,527.64 L817.68,525.63 L818.05,523.60 L818.43,521.56 L818.81,519.52 L819.18,517.46 L819.56,515.40 L819.93,513.32 L820.31,511.24 L820.69,509.15 L821.06,507.05 L821.44,504.94 L821.82,502.81 L822.19,500.68 L822.57,498.54 L822.94,496.39 L823.32,494.24 L823.70,492.07 L824.07,489.89 L824.45,487.70 L824.83,485.50 L825.20,483.29 L825.58,481.08 L825.95,478.85 L826.33,476.61 L826.71,474.36 L827.08,472.11 L827.46,469.84 L827.83,467.56 L828.21,465.27 L828.59,462.97 L828.96,460.66 L829.34,458.35 L829.72,456.02 L830.09,453.68 L830.47,451.33 L830.84,448.97 L831.22,446.60 L831.60,444.21 L831.97,441.82 L832.35,439.42 L832.73,437.01 L833.10,434.58 L833.48,432.15 L833.85,429.70 L834.23,427.24 L834.61,424.78 L834.98,422.30 L835.36,419.81 L835.74,417.31 L836.11,414.80 L836.49,412.28 L836.86,409.74 L837.24,407.20 L837.62,404.64 L837.99,402.07 L838.37,399.50 L838.74,396.91 L839.12,394.30 L839.50,391.69 L839.87,389.07 L840.25,386.43 L840.63,383.78 L841.00,381.12 L841.38,378.45 L841.75,375.77 L842.13,373.08 L842.51,370.37 L842.88,367.65 L843.26,364.92 L843.64,362.18 L844.01,359.43 L844.39,356.66 L844.76,353.88 L845.14,351.09 L845.52,348.29 L845.89,345.47 L846.27,342.65 L846.64,339.81 L847.02,336.96 L847.40,334.09 L847.77,331.22 L848.15,328.33 L848.53,325.43 L848.90,322.51 L849.28,319.58 L849.65,316.64 L850.03,313.69 L850.41,310.73 L850.78,307.75 L851.16,304.76 L851.54,301.75 L851.91,298.73 L852.29,295.70 L852.66,292.66 L853.04,289.60 L853.42,286.53 L853.79,283.45 L854.17,280.35 L854.55,277.24 L854.92,274.12 L855.30,270.98 L855.67,267.83 L856.05,264.67 L856.43,261.49 L856.80,258.30 L857.18,255.10 L857.55,251.88 L857.93,248.64 L858.31,245.40 L858.68,242.14 L859.06,238.86 L859.44,235.57 L859.81,232.27 L860.19,228.95 L860.56,225.62 L860.94,222.28 L861.32,218.92 L861.69,215.54 L862.07,212.15 L862.45,208.75 L862.82,205.33 L863.20,201.90 L863.57,198.45 L863.95,194.99 L864.33,191.51 L864.70,188.02 L865.08,184.51 L865.46,180.99 L865.83,177.45 L866.21,173.90 L866.58,170.34 L866.96,166.75 L867.34,163.16 L867.71,159.54 L868.09,155.92 L868.46,152.27 L868.84,148.61 L869.22,144.94 L869.59,141.25 L869.97,137.54 L870.35,133.82 L870.72,130.08 L871.10,126.33 L871.47,122.56 L871.85,118.78 L872.23,114.97 L872.60,111.16 L872.98,107.32 L873.36,103.47 L873.73,99.61 L874.11,95.73 L874.48,91.83 L874.86,87.91 L875.24,83.98 L875.61,80.03 L875.99,76.07 L876.36,72.09 L876.74,68.09 L877.12,64.07 L877.49,60.04 L877.87,55.99 L878.25,51.92 L878.62,47.84 L879.00,43.74 L879.37,39.62 L879.75,35.49 L880.13,31.34 L880.50,27.17 L880.88,22.98 L881.26,18.77 L881.63,14.55 L882.01,10.31 L882.38,6.05 L882.76,1.78 L883.14,-2.52 L883.51,-6.83 L883.89,-11.16 L884.27,-15.50 L884.64,-19.87 L885.02,-24.25 L885.39,-28.66 L885.77,-33.08" stroke="#00ff00" stroke-width="5.6"/>
<path d="M197.85,-20.00 L197.85,890.00 L198.00,915.00 L198.35,932.10 L220.00,932.10 L221.78,932.10 L223.28,932.10 L224.79,932.10 L226.29,932.10 L227.80,932.10 L229.30,932.10 L230.81,932.10 L232.31,932.10 L233.82,932.10 L235.32,932.10 L236.82,932.10 L238.33,932.10 L239.83,932.10 L241.34,932.10 L242.84,932.10 L244.35,932.10 L245.85,932.09 L247.36,932.09 L248.86,932.09 L250.37,932.09 L251.87,932.09 L253.38,932.09 L254.88,932.09 L256.39,932.09 L257.89,932.09 L259.40,932.09 L260.90,932.09 L262.41,932.09 L263.91,932.09 L265.42,932.09 L266.92,932.09 L268.43,932.09 L269.93,932.09 L271.44,932.09 L272.94,932.09 L274.44,932.09 L275.95,932.09 L277.45,932.09 L278.96,932.09 L280.46,932.08 L281.97,932.08 L283.47,932.08 L284.98,932.08 L286.48,932.08 L287.99,932.08 L289.49,932.08 L291.00,932.08 L292.50,932.08 L294.01,932.08 L295.51,932.08 L297.02,932.08 L298.52,932.07 L300.03,932.07 L301.53,932.07 L303.04,932.07 L304.54,932.07 L306.05,932.07 L307.55,932.07 L309.06,932.07 L310.56,932.06 L312.06,932.06 L313.57,932.06 L315.07,932.06 L316.58,932.06 L318.08,932.06 L319.59,932.05 L321.09,932.05 L322.60,932.05 L324.10,932.05 L325.61,932.05 L327.11,932.04 L328.62,932.04 L330.12,932.04 L331.63,932.04 L333.13,932.03 L334.64,932.03 L336.14,932.03 L337.65,932.03 L339.15,932.02 L340.66,932.02 L342.16,932.02 L343.67,932.01 L345.17,932.01 L346.68,932.01 L348.18,932.00 L349.68,932.00 L351.19,931.99 L352.69,931.99 L354.20,931.99 L355.70,931.98 L357.21,931.98 L358.71,931.97 L360.22,931.97 L361.72,931.96 L363.23,931.96 L364.73,931.95 L366.24,931.94 L367.74,931.94 L369.25,931.93 L370.75,931.93 L372.26,931.92 L373.76,931.91 L375.27,931.90 L376.77,931.90 L378.28,931.89 L379.78,931.88 L381.29,931.87 L382.79,931.87 L384.30,931.86 L385.80,931.85 L387.30,931.84 L388.81,931.83 L390.31,931.82 L391.82,931.81 L393.32,931.80 L394.83,931.79 L396.33,931.77 L397.84,931.76 L399.34,931.75 L400.85,931.74 L402.35,931.72 L403.86,931.71 L405.36,931.70 L406.87,931.68 L408.37,931.67 L409.88,931.65 L411.38,931.64 L412.89,931.62 L414.39,931.60 L415.90,931.58 L417.40,931.57 L418.91,931.55 L420.41,931.53 L421.92,931.51 L423.42,931.49 L424.92,931.46 L426.43,931.44 L427.93,931.42 L429.44,931.40 L430.94,931.37 L432.45,931.35 L433.95,931.32 L435.46,931.29 L436.96,931.27 L438.47,931.24 L439.97,931.21 L441.48,931.18 L442.98,931.15 L444.49,931.11 L445.99,931.08 L447.50,931.04 L449.00,931.01 L450.51,930.97 L452.01,930.93 L453.52,930.90 L455.02,930.85 L456.53,930.81 L458.03,930.77 L459.54,930.73 L461.04,930.68 L462.54,930.63 L464.05,930.59 L465.55,930.54 L467.06,930.48 L468.56,930.43 L470.07,930.38 L471.57,930.32 L473.08,930.26 L474.58,930.20 L476.09,930.14 L477.59,930.08 L479.10,930.01 L480.60,929.94 L482.11,929.87 L483.61,929.80 L485.12,929.73 L486.62,929.65 L488.13,929.58 L489.63,929.50 L491.14,929.41 L492.64,929.33 L494.15,929.24 L495.65,929.15 L497.16,929.06 L498.66,928.96 L500.16,928.86 L501.67,928.76 L503.17,928.66 L504.68,928.55 L506.18,928.44 L507.69,928.32 L509.19,928.21 L510.70,928.09 L512.20,927.96 L513.71,927.84 L515.21,927.70 L516.72,927.57 L518.22,927.43 L519.73,927.29 L521.23,927.14 L522.74,926.99 L524.24,926.83 L525.75,926.67 L527.25,926.51 L528.76,926.34 L530.26,926.17 L531.77,925.99 L533.27,925.81 L534.78,925.62 L536.28,925.42 L537.78,925.22 L539.29,925.02 L540.79,924.81 L542.30,924.59 L543.80,924.37 L545.31,924.14 L546.81,923.90 L548.32,923.66 L549.82,923.42 L551.33,923.16 L552.83,922.90 L554.34,922.63 L555.84,922.35 L557.35,922.07 L558.85,921.78 L560.36,921.48 L561.86,921.17 L563.37,920.85 L564.87,920.53 L566.38,920.20 L567.88,919.85 L569.39,919.50 L570.89,919.14 L572.40,918.77 L573.90,918.39 L575.40,918.00 L576.91,917.60 L578.41,917.19 L579.92,916.76 L581.42,916.33 L582.93,915.88 L584.43,915.43 L585.94,914.96 L587.44,914.48 L588.95,913.98 L590.08,913.60 L591.21,913.22 L592.33,912.82 L593.46,912.42 L594.59,912.01 L595.72,911.59 L596.85,911.17 L597.98,910.74 L599.11,910.29 L600.23,909.84 L601.36,909.38 L602.49,908.91 L603.62,908.44 L604.75,907.95 L605.88,907.45 L607.01,906.95 L608.13,906.43 L609.26,905.91 L610.39,905.37 L611.52,904.83 L612.65,904.27 L613.78,903.71 L614.91,903.13 L616.03,902.54 L617.16,901.94 L618.29,901.33 L619.42,900.71 L620.55,900.07 L621.68,899.43 L622.81,898.77 L623.93,898.10 L625.06,897.42 L626.19,896.72 L627.32,896.01 L628.45,895.29 L629.58,894.55 L630.71,893.80 L631.83,893.04 L632.96,892.26 L634.09,891.47 L635.22,890.66 L636.35,889.84 L637.48,889.00 L638.61,888.15 L639.74,887.28 L640.86,886.39 L641.99,885.49 L643.12,884.57 L644.25,883.64 L645.38,882.69 L646.51,881.72 L647.64,880.73 L648.76,879.72 L649.89,878.70 L651.02,877.66 L652.15,876.59 L653.28,875.51 L654.41,874.41 L655.54,873.29 L656.29,872.53 L657.04,871.76 L657.79,870.99 L658.55,870.20 L659.30,869.40 L660.05,868.60 L660.80,867.78 L661.55,866.96 L662.31,866.12 L663.06,865.28 L663.81,864.42 L664.56,863.56 L665.32,862.68 L666.07,861.79 L666.82,860.90 L667.57,859.99 L668.33,859.07 L669.08,858.14 L669.83,857.20 L670.58,856.25 L671.34,855.29 L672.09,854.31 L672.84,853.33 L673.59,852.33 L674.35,851.32 L675.10,850.30 L675.85,849.26 L676.60,848.22 L677.36,847.16 L678.11,846.09 L678.86,845.00 L679.61,843.91 L680.36,842.80 L681.12,841.68 L681.87,840.54 L682.62,839.39 L683.37,838.23 L684.13,837.05 L684.88,835.86 L685.63,834.66 L686.38,833.44 L687.14,832.21 L687.89,830.96 L688.64,829.70 L689.39,828.43 L690.15,827.14 L690.90,825.83 L691.65,824.51 L692.40,823.17 L693.16,821.82 L693.91,820.45 L694.66,819.07 L695.41,817.67 L696.16,816.25 L696.92,814.82 L697.67,813.37 L698.42,811.90 L699.17,810.42 L699.93,808.92 L700.68,807.40 L701.43,805.87 L702.18,804.32 L702.94,802.75 L703.69,801.16 L704.44,799.55 L705.19,797.93 L705.95,796.28 L706.70,794.62 L707.45,792.94 L708.20,791.24 L708.96,789.51 L709.71,787.77 L710.46,786.01 L711.21,784.23 L711.97,782.43 L712.72,780.61 L713.47,778.77 L714.22,776.90 L714.97,775.02 L715.73,773.11 L716.48,771.19 L717.23,769.24 L717.98,767.27 L718.74,765.27 L719.49,763.25 L720.24,761.21 L720.99,759.15 L721.75,757.07 L722.50,754.96 L723.25,752.82 L724.00,750.66 L724.76,748.48 L725.51,746.28 L726.26,744.04 L726.64,742.92 L727.01,741.79 L727.39,740.65 L727.77,739.51 L728.14,738.36 L728.52,737.20 L728.89,736.04 L729.27,734.87 L729.65,733.69 L730.02,732.51 L730.40,731.32 L730.78,730.12 L731.15,728.92 L731.53,727.71 L731.90,726.49 L732.28,725.27 L732.66,724.04 L733.03,722.80 L733.41,721.55 L733.79,720.30 L734.16,719.05 L734.54,717.78 L734.91,716.51 L735.29,715.23 L735.67,713.94 L736.04,712.65 L736.42,711.35 L736.79,710.04 L737.17,708.73 L737.55,707.40 L737.92,706.07 L738.30,704.74 L738.68,703.39 L739.05,702.04 L739.43,700.68 L739.80,699.31 L740.18,697.94 L740.56,696.56 L740.93,695.17 L741.31,693.77 L741.69,692.36 L742.06,690.95 L742.44,689.53 L742.81,688.10 L743.19,686.67 L743.57,685.22 L743.94,683.77 L744.32,682.31 L744.69,680.84 L745.07,679.36 L745.45,677.88 L745.82,676.38 L746.20,674.88 L746.58,673.37 L746.95,671.86 L747.33,670.33 L747.70,668.79 L748.08,667.25 L748.46,665.70 L748.83,664.14 L749.21,662.57 L749.59,660.99 L749.96,659.41 L750.34,657.81 L750.71,656.21 L751.09,654.60 L751.47,652.98 L751.84,651.35 L752.22,649.71 L752.60,648.06 L752.97,646.40 L753.35,644.74 L753.72,643.06 L754.10,641.38 L754.48,639.68 L754.85,637.98 L755.23,636.27 L755.60,634.55 L755.98,632.82 L756.36,631.08 L756.73,629.33 L757.11,627.57 L757.49,625.80 L757.86,624.02 L758.24,622.23 L758.61,620.43 L758.99,618.63 L759.37,616.81 L759.74,614.98 L760.12,613.14 L760.50,611.30 L760.87,609.44 L761.25,607.57 L761.62,605.69 L762.00,603.80 L762.38,601.91 L762.75,600.00 L763.13,598.08 L763.50,596.15 L763.88,594.21 L764.26,592.26 L764.63,590.30 L765.01,588.33 L765.39,586.35 L765.76,584.35 L766.14,582.35 L766.51,580.33 L766.89,578.31 L767.27,576.27 L767.64,574.23 L768.02,572.17 L768.40,570.10 L768.77,568.02 L769.15,565.93 L769.52,563.82 L769.90,561.71 L770.28,559.58 L770.65,557.44 L771.03,555.30 L771.41,553.14 L771.78,550.96 L772.16,548.78 L772.53,546.58 L772.91,544.38 L773.29,542.16 L773.66,539.93 L774.04,537.68 L774.41,535.43 L774.79,533.16 L775.17,530.88 L775.54,528.59 L775.92,526.29 L776.30,523.97 L776.67,521.64 L777.05,519.30 L777.42,516.95 L777.80,514.58 L778.18,512.20 L778.55,509.81 L778.93,507.40 L779.31,504.99 L779.68,502.56 L780.06,500.11 L780.43,497.66 L780.81,495.19 L781.19,492.71 L781.56,490.21 L781.94,487.70 L782.31,485.18 L782.69,482.64 L783.07,480.09 L783.44,477.53 L783.82,474.95 L784.20,472.36 L784.57,469.76 L784.95,467.14 L785.32,464.51 L785.70,461.86 L786.08,459.20 L786.45,456.53 L786.83,453.84 L787.21,451.14 L787.58,448.42 L787.96,445.69 L788.33,442.94 L788.71,440.18 L789.09,437.41 L789.46,434.62 L789.84,431.81 L790.22,428.99 L790.59,426.16 L790.97,423.31 L791.34,420.45 L791.72,417.57 L792.10,414.67 L792.47,411.76 L792.85,408.84 L793.22,405.89 L793.60,402.94 L793.98,399.97 L794.35,396.98 L794.73,393.98 L795.11,390.96 L795.48,387.92 L795.86,384.87 L796.23,381.80 L796.61,378.72 L796.99,375.62 L797.36,372.50 L797.74,369.37 L798.12,366.22 L798.49,363.06 L798.87,359.88 L799.24,356.68 L799.62,353.46 L800.00,350.23 L800.37,346.98 L800.75,343.71 L801.12,340.43 L801.50,337.13 L801.88,333.81 L802.25,330.48 L802.63,327.12 L803.01,323.75 L803.38,320.37 L803.76,316.96 L804.13,313.54 L804.51,310.09 L804.89,306.64 L805.26,303.16 L805.64,299.66 L806.02,296.15 L806.39,292.62 L806.77,289.07 L807.14,285.50 L807.52,281.91 L807.90,278.30 L808.27,274.68 L808.65,271.03 L809.02,267.37 L809.40,263.69 L809.78,259.99 L810.15,256.26 L810.53,252.53 L810.91,248.77 L811.28,244.99 L811.66,241.19 L812.03,237.37 L812.41,233.53 L812.79,229.67 L813.16,225.80 L813.54,221.90 L813.92,217.98 L814.29,214.04 L814.67,210.08 L815.04,206.10 L815.42,202.10 L815.80,198.08 L816.17,194.04 L816.55,189.98 L816.93,185.89 L817.30,181.79 L817.68,177.66 L818.05,173.51 L818.43,169.35 L818.81,165.16 L819.18,160.94 L819.56,156.71 L819.93,152.45 L820.31,148.18 L820.69,143.88 L821.06,139.56 L821.44,135.21 L821.82,130.85 L822.19,126.46 L822.57,122.05 L822.94,117.61 L823.32,113.16 L823.70,108.68 L824.07,104.17 L824.45,99.65 L824.83,95.10 L825.20,90.53 L825.58,85.93 L825.95,81.31 L826.33,76.67 L826.71,72.00 L827.08,67.31 L827.46,62.59 L827.83,57.85 L828.21,53.09 L828.59,48.30 L828.96,43.49 L829.34,38.65 L829.72,33.79 L830.09,28.91 L830.47,23.99 L830.84,19.06 L831.22,14.10 L831.60,9.11 L831.97,4.10 L832.35,-0.94 L832.73,-6.01 L833.10,-11.10 L833.48,-16.21 L833.85,-21.35 L834.23,-26.52 L834.61,-31.72" stroke="#0000ff" stroke-width="5.6"/>
</g>
<path d="M178.0,0.15 H1158.5 V981.15 H178.0 Z" stroke="#555" stroke-width="1.2" fill="none"/>
<path d="M197.50,981.15 v-13.6 M197.50,0.15 V14.2 M235.14,981.15 v-8.2 M235.14,0.15 V8.7 M272.78,981.15 v-8.2 M272.78,0.15 V8.7 M310.42,981.15 v-8.2 M310.42,0.15 V8.7 M348.06,981.15 v-8.2 M348.06,0.15 V8.7 M385.70,981.15 v-13.6 M385.70,0.15 V14.2 M423.34,981.15 v-8.2 M423.34,0.15 V8.7 M460.98,981.15 v-8.2 M460.98,0.15 V8.7 M498.62,981.15 v-8.2 M498.62,0.15 V8.7 M536.26,981.15 v-8.2 M536.26,0.15 V8.7 M573.90,981.15 v-13.6 M573.90,0.15 V14.2 M611.54,981.15 v-8.2 M611.54,0.15 V8.7 M649.18,981.15 v-8.2 M649.18,0.15 V8.7 M686.82,981.15 v-8.2 M686.82,0.15 V8.7 M724.46,981.15 v-8.2 M724.46,0.15 V8.7 M762.10,981.15 v-13.6 M762.10,0.15 V14.2 M799.74,981.15 v-8.2 M799.74,0.15 V8.7 M837.38,981.15 v-8.2 M837.38,0.15 V8.7 M875.02,981.15 v-8.2 M875.02,0.15 V8.7 M912.66,981.15 v-8.2 M912.66,0.15 V8.7 M950.30,981.15 v-13.6 M950.30,0.15 V14.2 M987.94,981.15 v-8.2 M987.94,0.15 V8.7 M1025.58,981.15 v-8.2 M1025.58,0.15 V8.7 M1063.22,981.15 v-8.2 M1063.22,0.15 V8.7 M1100.86,981.15 v-8.2 M1100.86,0.15 V8.7 M1138.50,981.15 v-13.6 M1138.50,0.15 V14.2 M178.0,974.35 h8.2 M1158.5,974.35 h-8.2 M178.0,932.35 h13.6 M1158.5,932.35 h-13.6 M178.0,890.35 h8.2 M1158.5,890.35 h-8.2 M178.0,848.35 h8.2 M1158.5,848.35 h-8.2 M178.0,806.35 h8.2 M1158.5,806.35 h-8.2 M178.0,764.35 h8.2 M1158.5,764.35 h-8.2 M178.0,722.35 h13.6 M1158.5,722.35 h-13.6 M178.0,680.35 h8.2 M1158.5,680.35 h-8.2 M178.0,638.35 h8.2 M1158.5,638.35 h-8.2 M178.0,596.35 h8.2 M1158.5,596.35 h-8.2 M178.0,554.35 h8.2 M1158.5,554.35 h-8.2 M178.0,512.35 h13.6 M1158.5,512.35 h-13.6 M178.0,470.35 h8.2 M1158.5,470.35 h-8.2 M178.0,428.35 h8.2 M1158.5,428.35 h-8.2 M178.0,386.35 h8.2 M1158.5,386.35 h-8.2 M178.0,344.35 h8.2 M1158.5,344.35 h-8.2 M178.0,302.35 h13.6 M1158.5,302.35 h-13.6 M178.0,260.35 h8.2 M1158.5,260.35 h-8.2 M178.0,218.35 h8.2 M1158.5,218.35 h-8.2 M178.0,176.35 h8.2 M1158.5,176.35 h-8.2 M178.0,134.35 h8.2 M1158.5,134.35 h-8.2 M178.0,92.35 h13.6 M1158.5,92.35 h-13.6 M178.0,50.35 h8.2 M1158.5,50.35 h-8.2 M178.0,8.35 h8.2 M1158.5,8.35 h-8.2" stroke="#444" stroke-width="1.0" fill="none"/>
<path d="M27.86,521.40 C27.34,521.40 25.71,521.03 24.77,521.40 C23.82,521.77 22.84,522.55 22.19,523.60 C21.55,524.65 20.99,526.33 20.90,527.70 C20.81,529.07 21.11,530.63 21.67,531.80 C22.23,532.97 23.30,534.10 24.25,534.70 C25.20,535.30 26.32,535.53 27.35,535.40 C28.38,535.27 29.50,534.83 30.44,533.90 C31.39,532.97 32.16,531.08 33.02,529.80 C33.88,528.52 34.48,527.20 35.60,526.20 C36.72,525.20 38.35,523.90 39.73,523.80 C41.11,523.70 42.74,524.60 43.86,525.60 C44.98,526.60 45.88,528.25 46.44,529.80 C47.00,531.35 47.38,533.18 47.21,534.90 C47.04,536.62 46.23,538.77 45.41,540.10 C44.59,541.43 43.34,542.32 42.31,542.90 C41.28,543.48 39.72,543.48 39.20,543.60" fill="none" stroke="#000" stroke-width="2.8" stroke-linecap="butt"/>
<path d="M665.1,1048.3 L670.15,1045.6 V1058 H665.1 Z" fill="#000"/>
<rect x="4.0" y="530.2" width="4.9" height="5.2" fill="#000"/>
<line x1="244.8" x2="310" y1="65.1" y2="65.1" stroke="#ff0000" stroke-width="5.6"/>
<line x1="244.8" x2="310" y1="150.5" y2="150.5" stroke="#ff8000" stroke-width="5.6"/>
<line x1="244.8" x2="310" y1="236.0" y2="236.0" stroke="#00ff00" stroke-width="5.6"/>
<line x1="244.8" x2="310" y1="321.4" y2="321.4" stroke="#0000ff" stroke-width="5.6"/>
</svg>
<div class="t xt" style="left:197.8px;top:988.74px"><svg class="o" viewBox="0 -1415.4 1139 1415.4" style="width:0.5562em;height:0.6911em"><path d="M763 0H583V1147Q518 1085 412.5 1023T223 930V1104Q374 1175 487 1276T647 1472H763Z" transform="scale(1,-0.96154)" fill="currentColor"/></svg></div>
<div class="t xt" style="left:386.0px;top:988.74px">2</div>
<div class="t xt" style="left:574.2px;top:988.74px">3</div>
<div class="t xt" style="left:762.4px;top:988.74px">4</div>
<div class="t xt" style="left:950.6px;top:988.74px">5</div>
<div class="t xt" style="left:1138.8px;top:988.74px">6</div>
<div class="t yt" style="left:0;width:180px;height:29.5px;top:917.47px"><span style="position:absolute;left:151.60px;top:0.00px;font-size:29.5px;">0</span></div>
<div class="t yt" style="left:0;width:180px;height:29.5px;top:710.47px"><span style="position:absolute;left:79.50px;top:0.00px;font-size:29.5px;"><svg class="o" viewBox="0 -1415.4 1139 1415.4" style="width:0.5562em;height:0.6911em"><path d="M763 0H583V1147Q518 1085 412.5 1023T223 930V1104Q374 1175 487 1276T647 1472H763Z" transform="scale(1,-0.96154)" fill="currentColor"/></svg></span><span style="position:absolute;left:101.70px;top:4.12px;font-size:27px;-webkit-text-stroke:0.6px #000">&#215;</span><span style="position:absolute;left:122.70px;top:0.00px;font-size:29.5px;"><svg class="o" viewBox="0 -1415.4 1139 1415.4" style="width:0.5562em;height:0.6911em"><path d="M763 0H583V1147Q518 1085 412.5 1023T223 930V1104Q374 1175 487 1276T647 1472H763Z" transform="scale(1,-0.96154)" fill="currentColor"/></svg></span><span style="position:absolute;left:138.35px;top:0.00px;font-size:29.5px;">0</span><span style="position:absolute;left:155.00px;top:-4.35px;font-size:22px;">9</span></div>
<div class="t yt" style="left:0;width:180px;height:29.5px;top:500.47px"><span style="position:absolute;left:79.50px;top:0.00px;font-size:29.5px;">2</span><span style="position:absolute;left:101.70px;top:4.12px;font-size:27px;-webkit-text-stroke:0.6px #000">&#215;</span><span style="position:absolute;left:122.70px;top:0.00px;font-size:29.5px;"><svg class="o" viewBox="0 -1415.4 1139 1415.4" style="width:0.5562em;height:0.6911em"><path d="M763 0H583V1147Q518 1085 412.5 1023T223 930V1104Q374 1175 487 1276T647 1472H763Z" transform="scale(1,-0.96154)" fill="currentColor"/></svg></span><span style="position:absolute;left:138.35px;top:0.00px;font-size:29.5px;">0</span><span style="position:absolute;left:155.00px;top:-4.35px;font-size:22px;">9</span></div>
<div class="t yt" style="left:0;width:180px;height:29.5px;top:290.47px"><span style="position:absolute;left:79.50px;top:0.00px;font-size:29.5px;">3</span><span style="position:absolute;left:101.70px;top:4.12px;font-size:27px;-webkit-text-stroke:0.6px #000">&#215;</span><span style="position:absolute;left:122.70px;top:0.00px;font-size:29.5px;"><svg class="o" viewBox="0 -1415.4 1139 1415.4" style="width:0.5562em;height:0.6911em"><path d="M763 0H583V1147Q518 1085 412.5 1023T223 930V1104Q374 1175 487 1276T647 1472H763Z" transform="scale(1,-0.96154)" fill="currentColor"/></svg></span><span style="position:absolute;left:138.35px;top:0.00px;font-size:29.5px;">0</span><span style="position:absolute;left:155.00px;top:-4.35px;font-size:22px;">9</span></div>
<div class="t yt" style="left:0;width:180px;height:29.5px;top:80.47px"><span style="position:absolute;left:79.50px;top:0.00px;font-size:29.5px;">4</span><span style="position:absolute;left:101.70px;top:4.12px;font-size:27px;-webkit-text-stroke:0.6px #000">&#215;</span><span style="position:absolute;left:122.70px;top:0.00px;font-size:29.5px;"><svg class="o" viewBox="0 -1415.4 1139 1415.4" style="width:0.5562em;height:0.6911em"><path d="M763 0H583V1147Q518 1085 412.5 1023T223 930V1104Q374 1175 487 1276T647 1472H763Z" transform="scale(1,-0.96154)" fill="currentColor"/></svg></span><span style="position:absolute;left:138.35px;top:0.00px;font-size:29.5px;">0</span><span style="position:absolute;left:155.00px;top:-4.35px;font-size:22px;">9</span></div>
<div class="t lg" style="left:325px;top:51.82px"><i class="a">&#945;</i>=0.45,<i>&#946;</i>=<svg class="o" viewBox="0 -1415.4 1139 1415.4" style="width:0.5562em;height:0.6911em"><path d="M806 0H525V1059Q371 915 162 846V1101Q272 1137 401 1237.5T578 1472H806Z" transform="scale(1,-0.96154)" fill="currentColor" stroke="currentColor" stroke-width="28"/></svg>.06</div>
<div class="t lg" style="left:325px;top:137.22px"><i class="a">&#945;</i>=0.55,<i>&#946;</i>=<svg class="o" viewBox="0 -1415.4 1139 1415.4" style="width:0.5562em;height:0.6911em"><path d="M806 0H525V1059Q371 915 162 846V1101Q272 1137 401 1237.5T578 1472H806Z" transform="scale(1,-0.96154)" fill="currentColor" stroke="currentColor" stroke-width="28"/></svg>.08</div>
<div class="t lg" style="left:325px;top:222.72px"><i class="a">&#945;</i>=0.60,<i>&#946;</i>=<svg class="o" viewBox="0 -1415.4 1139 1415.4" style="width:0.5562em;height:0.6911em"><path d="M806 0H525V1059Q371 915 162 846V1101Q272 1137 401 1237.5T578 1472H806Z" transform="scale(1,-0.96154)" fill="currentColor" stroke="currentColor" stroke-width="28"/></svg>.<svg class="o" viewBox="0 -1415.4 1139 1415.4" style="width:0.5562em;height:0.6911em"><path d="M806 0H525V1059Q371 915 162 846V1101Q272 1137 401 1237.5T578 1472H806Z" transform="scale(1,-0.96154)" fill="currentColor" stroke="currentColor" stroke-width="28"/></svg>0</div>
<div class="t lg" style="left:325px;top:308.12px"><i class="a">&#945;</i>=0.65,<i>&#946;</i>=<svg class="o" viewBox="0 -1415.4 1139 1415.4" style="width:0.5562em;height:0.6911em"><path d="M806 0H525V1059Q371 915 162 846V1101Q272 1137 401 1237.5T578 1472H806Z" transform="scale(1,-0.96154)" fill="currentColor" stroke="currentColor" stroke-width="28"/></svg>.<svg class="o" viewBox="0 -1415.4 1139 1415.4" style="width:0.5562em;height:0.6911em"><path d="M806 0H525V1059Q371 915 162 846V1101Q272 1137 401 1237.5T578 1472H806Z" transform="scale(1,-0.96154)" fill="currentColor" stroke="currentColor" stroke-width="28"/></svg>2</div>
<div class="t" style="left:661.0px;top:1038.8px;font-size:51px;height:47px;overflow:hidden;transform-origin:0 0;transform:scaleX(1.03)">t</div>
<div class="t" style="left:0;top:0;transform-origin:0 0;transform:translate(22.42px,519.9px) rotate(-90deg) scaleX(0.94);font-size:36px;letter-spacing:2px;font-kerning:none">Total</div>
</body></html>
